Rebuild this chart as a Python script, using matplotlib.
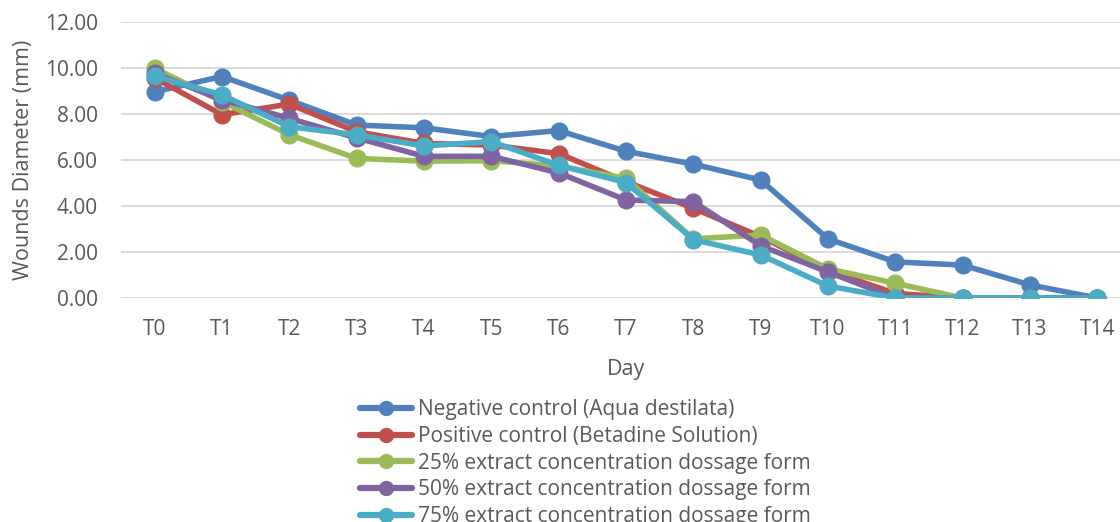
import matplotlib
matplotlib.use("Agg")
import matplotlib.pyplot as plt

days = ["T0", "T1", "T2", "T3", "T4", "T5", "T6", "T7", "T8", "T9", "T10", "T11", "T12", "T13", "T14"]
negative_control = [8.97, 9.63, 8.60, 7.52, 7.40, 7.02, 7.28, 6.38, 5.82, 5.13, 2.57, 1.57, 1.43, 0.57, 0.00]
positive_control = [9.57, 7.97, 8.43, 7.23, 6.72, 6.65, 6.28, 5.06, 3.90, 2.67, 1.20, 0.20, 0.00, 0.00, 0.00]
extract_25 = [9.99, 8.54, 7.10, 6.07, 5.95, 5.97, 5.74, 5.20, 2.57, 2.74, 1.27, 0.64, 0.00, 0.00, 0.00]
extract_50 = [9.77, 8.62, 7.81, 6.96, 6.16, 6.16, 5.44, 4.26, 4.19, 2.27, 1.13, 0.00, 0.00, 0.00, 0.00]
extract_75 = [9.65, 8.83, 7.45, 7.09, 6.61, 6.80, 5.77, 5.02, 2.54, 1.87, 0.52, 0.00, 0.00, 0.00, 0.00]

labels = [
    "Negative control (Aqua destilata)",
    "Positive control (Betadine Solution)",
    "25% extract concentration dossage form",
    "50% extract concentration dossage form",
    "75% extract concentration dossage form",
]
colors = ["#4F81BD", "#C0504D", "#9BBB59", "#8064A2", "#4BACC6"]
series = [negative_control, positive_control, extract_25, extract_50, extract_75]

plt.rcParams["font.family"] = ["Open Sans", "DejaVu Sans"]
txt = "#595959"

fig = plt.figure(figsize=(11.2, 5.22), dpi=100)
ax = fig.add_axes([121 / 1120, (522 - 298) / 522, (1131 - 121) / 1120, (298 - 22) / 522])

x = list(range(len(days)))
for vals, c, lab in zip(series, colors, labels):
    ax.plot(x, vals, color=c, lw=4, marker="o", ms=12, label=lab, solid_capstyle="round")

ax.set_xlim(-0.5, 14.5)
ax.set_ylim(0, 12)
ax.set_yticks([0, 2, 4, 6, 8, 10, 12])
ax.set_yticklabels([f"{v:.2f}" for v in [0, 2, 4, 6, 8, 10, 12]])
ax.set_xticks(x)
ax.set_xticklabels(days)
ax.grid(axis="y", color="#D9D9D9", lw=1.3)
ax.set_axisbelow(True)
for s in ax.spines.values():
    s.set_visible(False)
ax.tick_params(axis="both", length=0, labelsize=15, colors=txt)
ax.tick_params(axis="y", pad=16.5)
ax.tick_params(axis="x", pad=15)
ax.set_xlabel("Day", fontsize=15.5, color=txt, labelpad=14)
ax.set_ylabel("Wounds Diameter (mm)", fontsize=15.5, color=txt, labelpad=8)

leg = fig.legend(loc="upper left", bbox_to_anchor=(360 / 1120, 1 - 399 / 522), frameon=False,
                 fontsize=15, handlelength=2.5, handletextpad=0.29, labelspacing=0.28,
                 borderaxespad=0, borderpad=0)
for t in leg.get_texts():
    t.set_color(txt)
for h in leg.legend_handles:
    h.set_markersize(10)
    h.set_linewidth(4.5)

fig.savefig("out.png", dpi=100)
